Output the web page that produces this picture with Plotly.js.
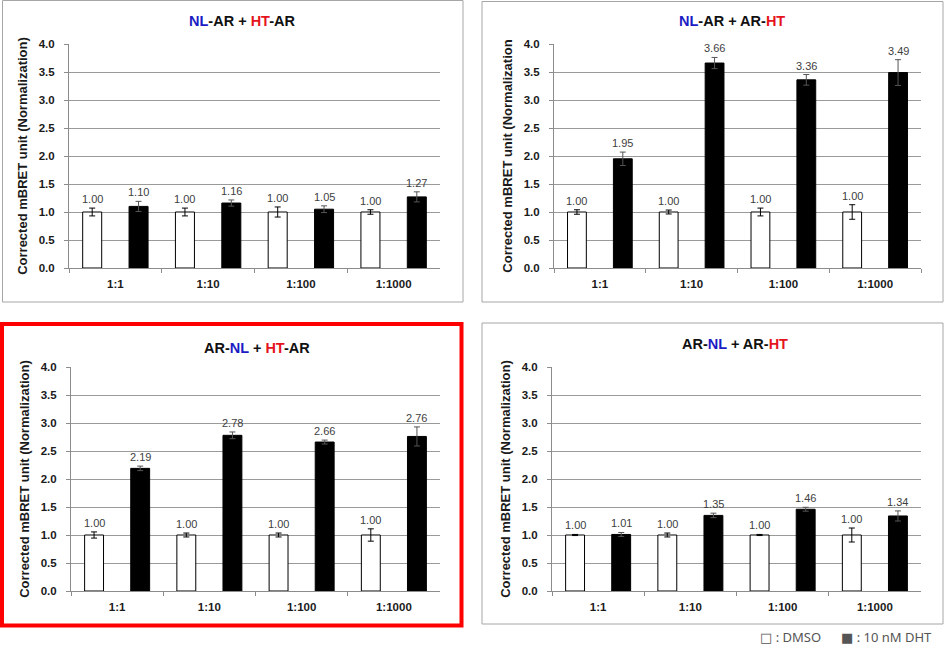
<!DOCTYPE html>
<html>
<head>
<meta charset="utf-8">
<script src="https://cdn.plot.ly/plotly-3.0.1.min.js"></script>
<style>html,body{margin:0;padding:0;background:#fff;}#chart{width:945px;height:655px;}</style>
</head>
<body>
<div id="chart"></div>
<script>
// ---- data ----
const categories = ['1:1', '1:10', '1:100', '1:1000'];
const seriesNames = ['DMSO', '10 nM DHT'];

const p1Dmso = [1.00, 1.00, 1.00, 1.00];
const p1DmsoErr = [0.07, 0.07, 0.09, 0.04];
const p1Dht = [1.10, 1.16, 1.05, 1.27];
const p1DhtErr = [0.09, 0.055, 0.06, 0.09];

const p2Dmso = [1.00, 1.00, 1.00, 1.00];
const p2DmsoErr = [0.04, 0.035, 0.07, 0.13];
const p2Dht = [1.95, 3.66, 3.36, 3.49];
const p2DhtErr = [0.12, 0.10, 0.095, 0.23];

const p3Dmso = [1.00, 1.00, 1.00, 1.00];
const p3DmsoErr = [0.055, 0.035, 0.035, 0.11];
const p3Dht = [2.19, 2.78, 2.66, 2.76];
const p3DhtErr = [0.04, 0.06, 0.035, 0.17];

const p4Dmso = [1.00, 1.00, 1.00, 1.00];
const p4DmsoErr = [0.01, 0.035, 0.01, 0.125];
const p4Dht = [1.01, 1.35, 1.46, 1.34];
const p4DhtErr = [0.035, 0.04, 0.035, 0.09];

const yTickVals = [0, 0.5, 1, 1.5, 2, 2.5, 3, 3.5, 4];
const yTickText = ['0.0', '0.5', '1.0', '1.5', '2.0', '2.5', '3.0', '3.5', '4.0'];

const BLUE = '#1c1cc4', RED = '#e5141c';
const titles = [
  `<span style="color:${BLUE}">NL</span>-AR + <span style="color:${RED}">HT</span>-AR`,
  `<span style="color:${BLUE}">NL</span>-AR + AR-<span style="color:${RED}">HT</span>`,
  `AR-<span style="color:${BLUE}">NL</span> + <span style="color:${RED}">HT</span>-AR`,
  `AR-<span style="color:${BLUE}">NL</span> + AR-<span style="color:${RED}">HT</span>`
];
const yTitles = [
  'Corrected mBRET unit (Normalization)',
  'Corrected mBRET unit (Normalization',
  'Corrected mBRET unit (Normalization)',
  'Corrected mBRET unit (Normalization)'
];

// ---- layout geometry (pixels) ----
const W = 945, H = 655;
const px = v => v / W;
const py = v => 1 - v / H;
const plotBoxes = [ // [x0, x1, yTop, yBottom] of plot areas
  [69, 440, 44, 268],
  [554, 921, 44, 268],
  [71, 440, 367, 591],
  [552, 921, 367, 591]
];
const frames = [ // panel frames [x0, x1, yTop, yBottom, color, width]
  [2.5, 463, 0.5, 302, '#a6a6a6', 1],
  [482, 943, 1.5, 302, '#a6a6a6', 1],
  [2, 461.5, 324, 625.5, '#ff0000', 4],
  [482, 943, 323, 624, '#a6a6a6', 1]
];
const titlePos = [[242, 21], [732, 21], [257, 348], [735, 344]];

const panels = [
  [p1Dmso, p1DmsoErr, p1Dht, p1DhtErr],
  [p2Dmso, p2DmsoErr, p2Dht, p2DhtErr],
  [p3Dmso, p3DmsoErr, p3Dht, p3DhtErr],
  [p4Dmso, p4DmsoErr, p4Dht, p4DhtErr]
];

const FONT = 'Arial, "Liberation Sans", sans-serif';
const traces = [];
const annotations = [];
const layout = {
  width: W, height: H,
  margin: {l: 0, r: 0, t: 0, b: 0},
  paper_bgcolor: '#fff', plot_bgcolor: '#fff',
  showlegend: false,
  barmode: 'group', bargap: 0, bargroupgap: 0.59,
  font: {family: FONT, color: '#222'},
  shapes: [],
  annotations: annotations
};

panels.forEach((p, i) => {
  const n = i + 1;
  const xa = n === 1 ? 'x' : 'x' + n;
  const ya = n === 1 ? 'y' : 'y' + n;
  const [dm, dmErr, dht, dhtErr] = p;
  traces.push({
    type: 'bar', name: seriesNames[0], x: categories, y: dm, xaxis: xa, yaxis: ya,
    marker: {color: '#ffffff', line: {color: '#000', width: 1}},
    error_y: {type: 'data', array: dmErr, visible: true, color: '#000', thickness: 1, width: 3},
    hoverinfo: 'y'
  });
  traces.push({
    type: 'bar', name: seriesNames[1], x: categories, y: dht, xaxis: xa, yaxis: ya,
    marker: {color: '#000000', line: {color: '#000', width: 1}},
    error_y: {type: 'data', array: dhtErr, visible: true, color: '#555', thickness: 1, width: 3},
    hoverinfo: 'y'
  });
  const b = plotBoxes[i];
  const axKey = n === 1 ? '' : String(n);
  layout['xaxis' + axKey] = {
    domain: [px(b[0]), px(b[1])], anchor: ya,
    type: 'category', categoryorder: 'array', categoryarray: categories,
    range: [-0.5, categories.length - 0.5],
    showline: true, linecolor: '#8c8c8c', linewidth: 1,
    ticks: 'outside', tickson: 'boundaries', ticklen: 4, tickcolor: '#8c8c8c',
    showgrid: false, zeroline: false,
    tickfont: {family: FONT, size: 11.5, color: '#1a1a1a', weight: 'bold'},
    ticklabelstandoff: 5,
    fixedrange: true
  };
  layout['yaxis' + axKey] = {
    domain: [py(b[3]), py(b[2])], anchor: xa,
    range: [0, 4], tickvals: yTickVals, ticktext: yTickText,
    showline: true, linecolor: '#8c8c8c', linewidth: 1,
    ticks: 'outside', ticklen: 4, tickcolor: '#8c8c8c',
    showgrid: true, gridcolor: '#9a9a9a', gridwidth: 1, zeroline: false,
    tickfont: {family: FONT, size: 11.5, color: '#1a1a1a', weight: 'bold'},
    ticklabelstandoff: 7,
    title: {text: yTitles[i], font: {family: FONT, size: 13, color: '#1a1a1a', weight: 'bold'}, standoff: 8},
    fixedrange: true
  };
  // value labels above error bars
  categories.forEach((c, k) => {
    annotations.push({
      xref: xa, yref: ya, x: k - 0.25, y: dm[k] + dmErr[k], text: dm[k].toFixed(2),
      showarrow: false, yanchor: 'bottom', yshift: 1,
      font: {family: FONT, size: 11, color: '#404040'}
    });
    annotations.push({
      xref: xa, yref: ya, x: k + 0.25, y: dht[k] + dhtErr[k], text: dht[k].toFixed(2),
      showarrow: false, yanchor: 'bottom', yshift: 1,
      font: {family: FONT, size: 11, color: '#404040'}
    });
  });
  // panel title
  annotations.push({
    xref: 'paper', yref: 'paper', x: px(titlePos[i][0]), y: py(titlePos[i][1]),
    text: titles[i], showarrow: false, xanchor: 'center', yanchor: 'middle',
    font: {family: FONT, size: 14.5, color: '#111', weight: 'bold'}
  });
  // frame
  const f = frames[i];
  layout.shapes.push({
    type: 'rect', xref: 'paper', yref: 'paper', layer: 'below',
    x0: px(f[0]), x1: px(f[1]), y0: py(f[3]), y1: py(f[2]),
    line: {color: f[4], width: f[5]}, fillcolor: 'rgba(0,0,0,0)'
  });
});

// legend text at the bottom right
const LEG = '"Noto Sans", "DejaVu Sans", sans-serif';
annotations.push({
  xref: 'paper', yref: 'paper', x: px(790), y: py(637), xanchor: 'center', yanchor: 'middle',
  text: '\u25A1 : ' + seriesNames[0], showarrow: false, font: {family: LEG, size: 13, color: '#555'}
});
annotations.push({
  xref: 'paper', yref: 'paper', x: px(886), y: py(637), xanchor: 'center', yanchor: 'middle',
  text: '\u25A0 : ' + seriesNames[1], showarrow: false, font: {family: LEG, size: 13, color: '#555'}
});

Plotly.newPlot('chart', traces, layout, {staticPlot: true, displayModeBar: false});
</script>
</body>
</html>
